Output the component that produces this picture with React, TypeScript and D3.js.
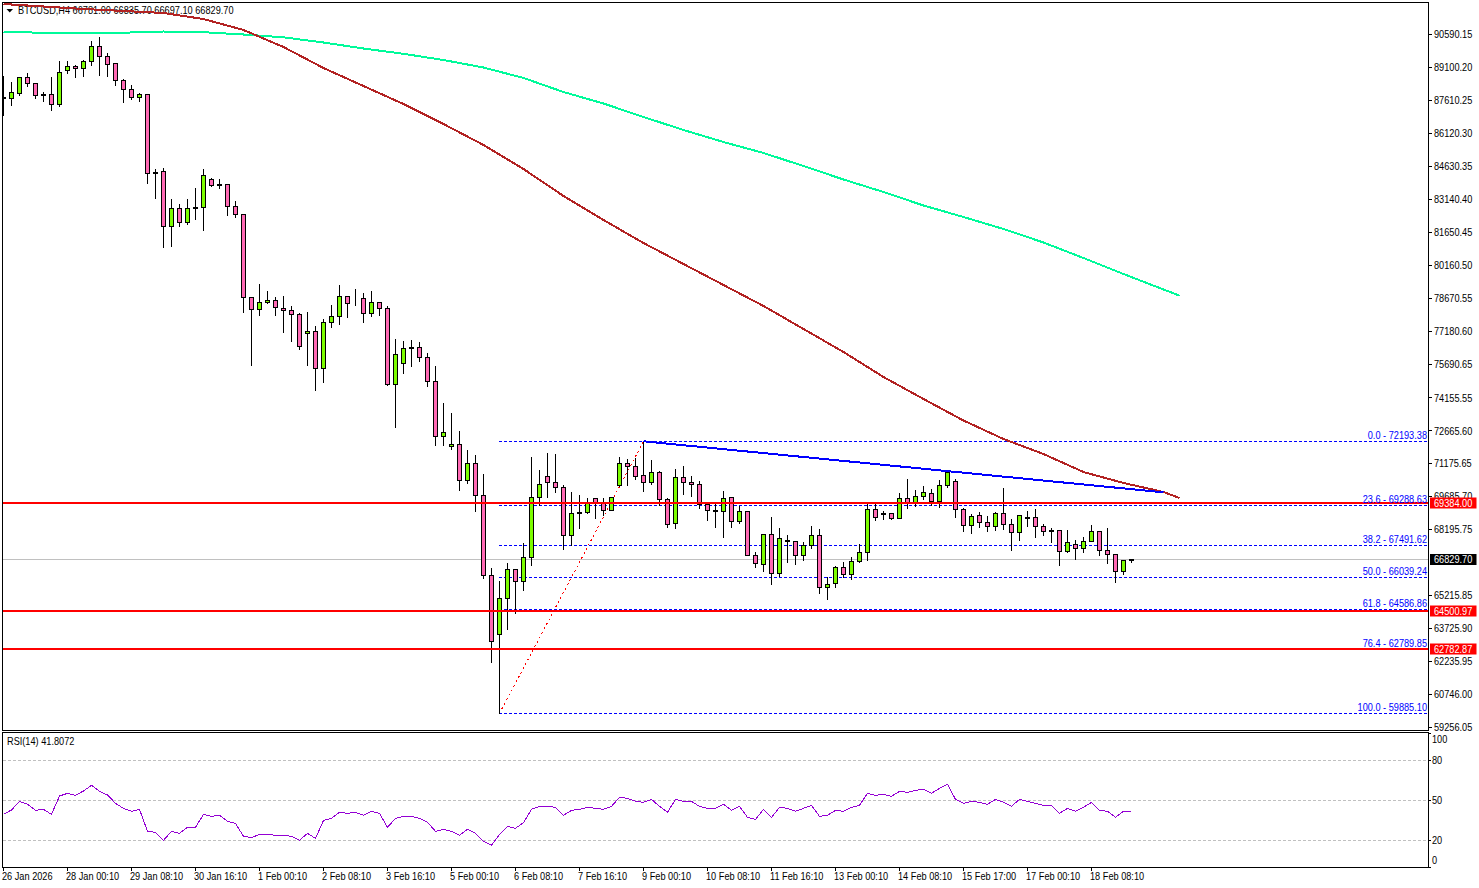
import React from "react";
import * as d3 from "d3";

const opens = [87765,87712,87939,88663,88391,87890,87893,87441,88979,89160,89070,89387,90065,89613,89296,88527,88120,87758,87893,84340,84409,81920,82735,82101,82790,82780,84047,83830,83821,82825,82463,78708,78165,78481,78572,78210,78119,77938,77079,77169,75495,77576,77848,78736,78662,78662,77984,78481,78210,74771,75721,76450,76445,75993,74907,72418,71966,72056,70427,71196,69748,66128,63458,65087,66400,65857,66943,69658,70608,70337,70110,67938,68960,68979,69612,69386,69069,70201,71196,71060,70653,70337,70789,69567,68481,70563,70337,70246,69341,69060,69024,69658,68572,69024,67033,66626,67983,66219,67700,67667,67033,67486,67938,65585,65766,66490,66173,66762,67169,69115,68920,68934,68707,69612,69386,69703,69839,69477,70201,70382,69115,68391,68843,68527,68345,68934,68436,68074,68740,68753,68345,68150,68164,67214,67531,67350,67667,68119,67259,67078,66292,66781];
const closes = [87720,87984,88663,88391,87848,87850,87441,88889,89160,89070,89387,90065,89613,89251,88527,88120,87758,87893,84319,84300,81920,82735,82101,82735,82745,84228,83776,83785,82825,82463,78708,78165,78481,78572,78255,78119,77938,76490,77169,75495,77576,77848,78753,78436,78650,77984,78481,78210,74771,76128,76400,76405,75993,74907,72418,72599,72056,70427,71196,69748,66128,63142,65087,66400,65857,66943,69658,70246,70337,70110,67938,68934,68915,69386,69386,69069,69658,71196,71060,70608,70337,70789,69567,68436,70563,70337,70246,69341,69052,69015,69612,68572,69024,67033,66671,67983,66219,67802,67655,67033,67486,67938,65585,65721,66490,66173,66762,67169,69115,68753,68875,68707,69612,69386,69703,69884,69477,70201,70789,69115,68391,68798,68527,68345,68934,68436,68074,68843,68695,68345,68119,68105,67214,67621,67350,67667,68119,67259,67078,66292,66790,66829.7];
const highs = [88768,88452,88663,88904,88436,88044,88723,89447,89402,89266,89492,90352,90488,89809,89341,88617,88361,87984,87939,84515,84590,83187,82976,83202,83700,84515,84138,84092,83866,83067,82509,78753,79341,79024,78753,78798,78346,78029,78074,77441,77757,78391,79296,78798,79115,78934,79024,78481,78346,76852,76777,76822,76700,76219,75631,73957,73504,72690,71830,71604,70744,66490,65902,66716,66400,67621,71513,70925,71694,71649,70246,69929,69793,69658,69612,69658,69658,71513,71422,71468,72193,71377,70879,69658,70970,71106,70653,70427,69356,69386,69975,69670,69296,69069,67214,67983,68798,68300,67983,67712,67667,68391,68255,66083,66581,66762,66988,67576,69386,69386,69069,68962,69884,70517,70020,70201,70065,70472,70879,70517,69205,68934,69024,68843,69024,70110,68707,68888,69069,69160,68481,68300,68210,68210,67757,67893,68436,68164,68300,67078,66835,66835.7];
const lows = [86928,87381,87833,88240,87697,87562,87154,87335,88829,88648,88678,89191,88738,88678,88286,87516,87652,87562,83851,83172,80955,81000,81905,81996,82222,81724,83715,83625,82403,82313,78029,75614,77876,78419,77876,77107,76700,76338,75614,74483,74845,77333,77469,77786,78329,77560,77831,77876,74709,72808,75252,75569,75795,74664,71981,71981,71813,69958,70274,69008,65976,62174,59885,63667,64392,65433,66564,69279,69641,69867,67288,67486,68238,68934,68690,68843,69069,70155,70184,70455,69912,70246,69279,68283,68238,69776,69686,69143,68600,68283,67831,68283,68481,67033,66473,66292,65704,66066,66699,66609,66790,67333,65297,65025,65585,66038,65947,66716,66807,68600,68662,68662,68707,69160,69234,69567,69296,69188,70125,68736,68102,68011,68283,68102,68147,68193,67242,67695,68328,67831,67921,67604,66564,67152,66835,67152,67667,67016,66654,65795,66156,66697.1];

const rsiValues = [39.5,42.75,49.25,47,42.5,43.25,39.5,53.25,55.25,53.75,57,61.25,56.75,54,47.75,44,41.75,43.25,26.75,26,20,26.75,25.25,29.75,29.75,39.5,38,38.75,34.25,32.75,23,22,24.5,24.5,23.75,23.75,23,20,25.25,21.5,35,36.5,41,40.25,41,38.75,41.75,40.25,29.75,36.5,38,38,36.5,33.5,26.75,28.25,26.75,23.75,28.25,25.25,19.25,16.25,24.5,30.5,29,33.25,43.25,45.5,45.5,44.75,38.75,42.5,43.25,44.75,44,43.25,45.5,52.25,51.5,49.25,48.5,50.75,45.5,41,50.75,49.25,49.25,45.5,44,44,47,42.5,45.5,37.25,35.75,43.25,37.25,44.75,44,41.75,44,46.25,38,38.75,42.5,41.75,44.75,46.25,55.25,53.75,54.5,53,56.75,56,57.5,58.25,55.25,59,62,50.75,47.75,49.25,48.5,47,50.75,48.5,45.5,50.75,49.25,47.75,46.25,46.25,40.25,44,41.75,44.75,48.5,42.5,41.75,37.25,41.75,41.8072];

const maBars = [0,5,10,15,20,25,30,35,40,45,50,55,60,65,70,75,80,85,90,95,100,105,110,115,120,125,130,135,140,145,147];
const maSlow = [90714,90682,90682,90682,90737,90705,90601,90474,90239,89967,89728,89447,89108,88633,87999,87479,86868,86280,85736,85239,84650,84040,83474,82863,82343,81800,81189,80488,79764,79062,78786];
const maFast = [91981,91868,91755,91664,91574,91302,90805,90035,89085,88270,87456,86551,85601,84515,83293,82207,81166,80216,79266,78316,77275,76234,75103,74107,73134,72297,71618,70804,70306,69899,69628];

const priceTicks = [90590.15,89100.2,87610.25,86120.3,84630.35,83140.4,81650.45,80160.5,78670.55,77180.6,75690.65,74155.55,72665.6,71175.65,69685.7,68195.75,65215.85,63725.9,62235.95,60746,59256.05];
const rsiTicks = [100,80,50,20,0];
const rsiLevels = [80,50,20];
const dateLabels = ["26 Jan 2026","28 Jan 00:10","29 Jan 08:10","30 Jan 16:10","1 Feb 00:10","2 Feb 08:10","3 Feb 16:10","5 Feb 00:10","6 Feb 08:10","7 Feb 16:10","9 Feb 00:10","10 Feb 08:10","11 Feb 16:10","13 Feb 00:10","14 Feb 08:10","15 Feb 17:00","17 Feb 00:10","18 Feb 08:10"];
const dateBarStep = 8;

const fibLevels = [72193.38,69288.63,67491.62,66039.24,64586.86,62789.85,59885.1];
const fibNames = ["0.0","23.6","38.2","50.0","61.8","76.4","100.0"];
const fibLowBar = 62;
const fibHighBar = 80;
const trendBars = [80,145];
const trendPrices = [72193.38,69885];
const supportLevels = [69384,64500.97,62782.87];
const lastPrice = 66829.7;

const W = 1479, H = 888;
const LEFT = 3, RIGHT = 1428;
const FONT = "'Liberation Sans', Arial, sans-serif";
const UP = "#7CFC00", DOWN = "#FF69B4", RED = "#FF0000", BLUE = "#0000FF", GREY = "#C0C0C0";

const xBar = d3.scaleLinear().domain([0, 1]).range([3.5, 11.5]);
const yPrice = d3.scaleLinear().domain([92071.7, 59129.7]).range([2, 730]);
const yRsi = d3.scaleLinear().domain([0, 100]).range([867, 733.67]);
const snap = (v: number) => Math.floor(v) + 0.5;

const maLine = d3.line<number>((_, i) => xBar(maBars[i])).y((d) => yPrice(d));
const rsiLine = d3.line<number>((_, i) => xBar(i)).y((d) => yRsi(d));
const trendLine = d3.line<number>((_, i) => xBar(trendBars[i])).y((d) => yPrice(d));

function T({ x, y, fill = "#000", anchor = "start", children }: any) {
  return (
    <text transform={`translate(${x},${y}) scale(0.92,1)`} textAnchor={anchor} fill={fill}
      dominantBaseline="central" style={{ fontFamily: FONT, fontSize: 10 }}>
      {children}
    </text>
  );
}

export default function App() {
  return (
    <svg width={W} height={H} viewBox={`0 0 ${W} ${H}`}
      style={{ position: "absolute", left: 0, top: 0, background: "#fff" }}>
      <defs>
        <clipPath id="mainClip"><rect x={LEFT} y={3} width={RIGHT - LEFT} height={727} /></clipPath>
        <clipPath id="rsiClip"><rect x={LEFT} y={733} width={RIGHT - LEFT} height={134} /></clipPath>
      </defs>

      <g clipPath="url(#mainClip)">
        <line x1={LEFT} x2={RIGHT} y1={snap(yPrice(lastPrice))} y2={snap(yPrice(lastPrice))} stroke={GREY} />

        <T x={18} y={10.5}>{"BTCUSD,H4  66781.00 66835.70 66697.10 66829.70"}</T>
        <path d="M6.5 9 L13 9 L9.75 12.5 Z" fill="#000" />

        {fibLevels.map((lv) => (
          <line key={lv} x1={xBar(fibLowBar) - 0.5} x2={1427} y1={snap(yPrice(lv))} y2={snap(yPrice(lv))}
            stroke={BLUE} strokeDasharray="3 2" shapeRendering="crispEdges" />
        ))}

        <line x1={xBar(fibLowBar)} y1={yPrice(fibLevels[6])} x2={xBar(fibHighBar)} y2={yPrice(fibLevels[0])}
          stroke={RED} strokeDasharray="2 3" shapeRendering="crispEdges" />

        {opens.map((o, i) => {
          const c = closes[i];
          const cx = xBar(i);
          const t = snap(yPrice(Math.max(o, c)));
          const b = snap(yPrice(Math.min(o, c)));
          return (
            <g key={i} shapeRendering="crispEdges">
              <line x1={cx} x2={cx} y1={snap(yPrice(highs[i]))} y2={snap(yPrice(lows[i]))} stroke="#000" />
              <rect x={cx - 2} y={t} width={4} height={b - t} fill={c >= o ? UP : DOWN} stroke="#000" />
            </g>
          );
        })}

        <path d={maLine(maSlow) ?? ""} fill="none" stroke="#00FA9A" strokeWidth={2} shapeRendering="crispEdges" />
        <path d={maLine(maFast) ?? ""} fill="none" stroke="#B22222" strokeWidth={2} shapeRendering="crispEdges" />
        <path d={trendLine(trendPrices) ?? ""} fill="none" stroke={BLUE} strokeWidth={2} shapeRendering="crispEdges" />

        {supportLevels.map((lv) => (
          <line key={lv} x1={LEFT} x2={RIGHT} y1={Math.round(yPrice(lv))} y2={Math.round(yPrice(lv))}
            stroke={RED} strokeWidth={2} />
        ))}

        {fibLevels.map((lv, i) => (
          <T key={lv} x={1427} y={yPrice(lv) - 6} anchor="end" fill={BLUE}>
            {`${fibNames[i]} - ${lv.toFixed(2)}`}
          </T>
        ))}
      </g>

      <g fill="none" stroke="#000" shapeRendering="crispEdges">
        <rect x={2.5} y={2.5} width={RIGHT - 2} height={727.5} />
        <rect x={2.5} y={732.5} width={RIGHT - 2} height={134.5} />
      </g>

      {priceTicks.map((t) => (
        <g key={t}>
          <line x1={RIGHT} x2={RIGHT + 4} y1={snap(yPrice(t))} y2={snap(yPrice(t))} stroke="#000" shapeRendering="crispEdges" />
          <T x={1434} y={yPrice(t)}>{t.toFixed(2)}</T>
        </g>
      ))}

      {supportLevels.map((lv) => (
        <g key={lv}>
          <rect x={1430} y={Math.round(yPrice(lv)) - 5.5} width={46.5} height={11} fill={RED} />
          <T x={1434} y={yPrice(lv)} fill="#fff">{lv.toFixed(2)}</T>
        </g>
      ))}
      <rect x={1430} y={snap(yPrice(lastPrice)) - 5.5} width={46.5} height={11} fill="#000" />
      <T x={1434} y={yPrice(lastPrice)} fill="#fff">{lastPrice.toFixed(2)}</T>

      <T x={7} y={741.7}>RSI(14) 41.8072</T>
      <g clipPath="url(#rsiClip)">
        {rsiLevels.map((lv) => (
          <line key={lv} x1={LEFT} x2={RIGHT} y1={snap(yRsi(lv))} y2={snap(yRsi(lv))}
            stroke={GREY} strokeDasharray="3 2" shapeRendering="crispEdges" />
        ))}
        <path d={rsiLine(rsiValues) ?? ""} fill="none" stroke="#9400D3" strokeWidth={1} shapeRendering="crispEdges" />
      </g>
      {rsiTicks.map((t) => {
        const ly = t === 100 ? 739.5 : t === 0 ? 860.8 : yRsi(t);
        return (
          <g key={t}>
            <line x1={RIGHT} x2={RIGHT + 3} y1={snap(yRsi(t))} y2={snap(yRsi(t))} stroke="#000" shapeRendering="crispEdges" />
            <T x={1432} y={ly}>{t}</T>
          </g>
        );
      })}

      {dateLabels.map((d, i) => {
        const tx = xBar(i * dateBarStep);
        return (
          <g key={d}>
            <line x1={tx} x2={tx} y1={867} y2={871} stroke="#000" shapeRendering="crispEdges" />
            <T x={tx - 1.5} y={876.7}>{d}</T>
          </g>
        );
      })}
    </svg>
  );
}
